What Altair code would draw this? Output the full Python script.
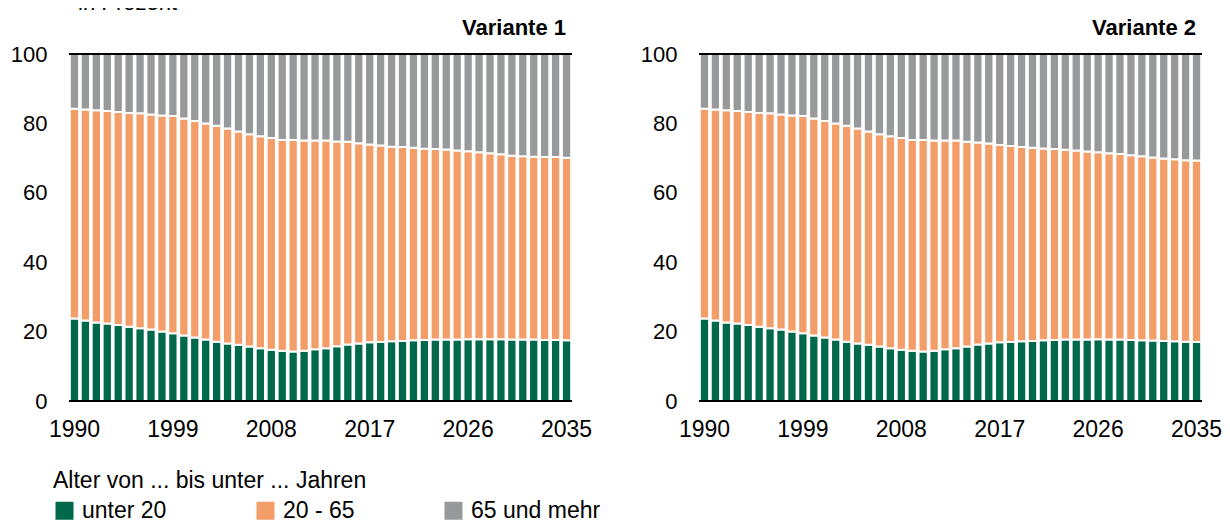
import altair as alt
import pandas as pd

FONT = "Liberation Sans"

years = list(range(1990, 2036))
tick_years = [1990, 1999, 2008, 2017, 2026, 2035]
y_ticks = [0, 10, 20, 30, 40, 50, 60, 70, 80, 90, 100]
groups = ["unter 20", "20 - 65", "65 und mehr"]
colors = ["#00694B", "#F39D68", "#98999B"]

# Variante 1 (shares in percent)
v1_u20 = [23.8, 23.2, 22.6, 22.3, 21.9, 21.4, 21.0, 20.6, 20.0, 19.5,
          18.9, 18.3, 17.7, 17.1, 16.6, 16.2, 15.7, 15.2, 14.8, 14.5,
          14.3, 14.5, 14.9, 15.2, 15.8, 16.3, 16.6, 16.9, 17.0, 17.2,
          17.3, 17.5, 17.6, 17.7, 17.7, 17.7, 17.8, 17.8, 17.8, 17.8,
          17.7, 17.7, 17.7, 17.6, 17.6, 17.5]
v1_mid = [60.4, 60.8, 61.2, 61.3, 61.4, 61.6, 61.9, 62.0, 62.3, 62.6,
          62.5, 62.4, 62.3, 62.2, 61.9, 61.5, 61.2, 61.1, 61.0, 60.7,
          60.9, 60.6, 60.2, 59.9, 59.0, 58.4, 57.7, 57.0, 56.6, 56.1,
          55.9, 55.5, 55.1, 54.9, 54.8, 54.5, 54.2, 53.9, 53.6, 53.3,
          53.0, 52.8, 52.7, 52.7, 52.7, 52.6]
v1_o65 = [15.8, 16.0, 16.2, 16.4, 16.7, 17.0, 17.1, 17.4, 17.7, 17.9,
          18.6, 19.3, 20.0, 20.7, 21.5, 22.3, 23.1, 23.7, 24.2, 24.8,
          24.8, 24.9, 24.9, 24.9, 25.2, 25.3, 25.7, 26.1, 26.4, 26.7,
          26.8, 27.0, 27.3, 27.4, 27.5, 27.8, 28.0, 28.3, 28.6, 28.9,
          29.3, 29.5, 29.6, 29.7, 29.7, 29.9]

# Variante 2 (shares in percent)
v2_u20 = [23.8, 23.2, 22.6, 22.3, 21.9, 21.4, 21.0, 20.6, 20.0, 19.5,
          18.9, 18.3, 17.7, 17.1, 16.6, 16.2, 15.7, 15.2, 14.8, 14.5,
          14.3, 14.5, 14.9, 15.2, 15.7, 16.3, 16.6, 16.9, 17.0, 17.2,
          17.3, 17.5, 17.6, 17.7, 17.7, 17.7, 17.8, 17.7, 17.7, 17.6,
          17.5, 17.4, 17.3, 17.2, 17.1, 17.0]
v2_mid = [60.4, 60.8, 61.2, 61.3, 61.4, 61.6, 61.9, 62.0, 62.3, 62.6,
          62.5, 62.4, 62.3, 62.2, 61.9, 61.5, 61.2, 61.1, 61.0, 60.7,
          60.9, 60.6, 60.2, 59.9, 59.0, 58.2, 57.6, 56.9, 56.5, 56.0,
          55.7, 55.3, 55.0, 54.7, 54.5, 54.2, 53.9, 53.7, 53.5, 53.2,
          53.0, 52.8, 52.6, 52.5, 52.3, 52.3]
v2_o65 = [15.8, 16.0, 16.2, 16.4, 16.7, 17.0, 17.1, 17.4, 17.7, 17.9,
          18.6, 19.3, 20.0, 20.7, 21.5, 22.3, 23.1, 23.7, 24.2, 24.8,
          24.8, 24.9, 24.9, 24.9, 25.3, 25.5, 25.8, 26.2, 26.5, 26.8,
          27.0, 27.2, 27.4, 27.6, 27.8, 28.1, 28.3, 28.6, 28.8, 29.2,
          29.5, 29.8, 30.1, 30.3, 30.6, 30.7]

W = 503
H = 347

legend = alt.Legend(
    title="Alter von ... bis unter ... Jahren",
    orient="none", legendX=-16, legendY=416,
    direction="horizontal", columns=3,
    symbolType="square", symbolSize=324, symbolStrokeWidth=0,
    symbolOpacity=1,
    labelOffset=6, columnPadding=87, titlePadding=6,
    labelFontSize=23, titleFontSize=23, titleFontWeight="normal",
    labelFont=FONT, titleFont=FONT, labelColor="black", titleColor="black",
    titleLimit=700, labelLimit=400, padding=0,
)


def panel(u20, mid, o65, label, extra_text):
    rows = []
    for i, yr in enumerate(years):
        for k, (g, v) in enumerate(zip(groups, (u20[i], mid[i], o65[i]))):
            rows.append({"Jahr": yr, "Gruppe": g, "Wert": v, "ord": k})
    df = pd.DataFrame(rows)
    yscale = alt.Scale(domain=[0, 100], nice=False)
    bars = alt.Chart(df).mark_bar(stroke="white", strokeWidth=2).encode(
        x=alt.X("Jahr:O",
                scale=alt.Scale(paddingInner=0.15, paddingOuter=0.075),
                axis=alt.Axis(values=tick_years, title=None, labelAngle=0,
                              domain=False, ticks=False, tickSize=0,
                              labelPadding=17, labelFontSize=23, labelFont=FONT,
                              labelColor="black", labelOverlap=False)),
        y=alt.Y("Wert:Q", stack="zero", scale=yscale,
                axis=alt.Axis(values=y_ticks, title=None, domain=False,
                              ticks=False, tickSize=0, grid=False,
                              labelPadding=22, labelFontSize=22, labelFont=FONT,
                              labelColor="black", labelOverlap=False)),
        color=alt.Color("Gruppe:N", scale=alt.Scale(domain=groups, range=colors),
                        legend=legend),
        order=alt.Order("ord:Q", sort="ascending"),
    )
    rules = alt.Chart(pd.DataFrame({"Wert": [0, 100]})).mark_rule(
        color="black", strokeWidth=2
    ).encode(y=alt.Y("Wert:Q", scale=yscale), x=alt.value(0), x2=alt.value(W))
    title = alt.Chart(pd.DataFrame({"t": [label]})).mark_text(
        align="right", baseline="alphabetic", fontSize=22, fontWeight="bold",
        font=FONT, color="black"
    ).encode(text="t:N", x=alt.value(W - 6), y=alt.value(-19))
    layers = [bars, rules, title]
    if extra_text:
        intro = alt.Chart(pd.DataFrame({"t": [extra_text]})).mark_text(
            align="left", baseline="alphabetic", fontSize=22, font=FONT,
            color="black"
        ).encode(text="t:N", x=alt.value(9), y=alt.value(-44))
        layers.append(intro)
    return alt.layer(*layers).properties(width=W, height=H)


p1 = panel(v1_u20, v1_mid, v1_o65, "Variante 1", "in Prozent")
p2 = panel(v2_u20, v2_mid, v2_o65, "Variante 2", None)

chart = alt.hconcat(p1, p2, spacing=48).properties(
    padding={"left": 2, "top": -16, "right": 0, "bottom": 0}
).configure_view(stroke=None).configure_axis(grid=False)

chart.save("out.html", embed_options={"renderer": "svg", "actions": False})
